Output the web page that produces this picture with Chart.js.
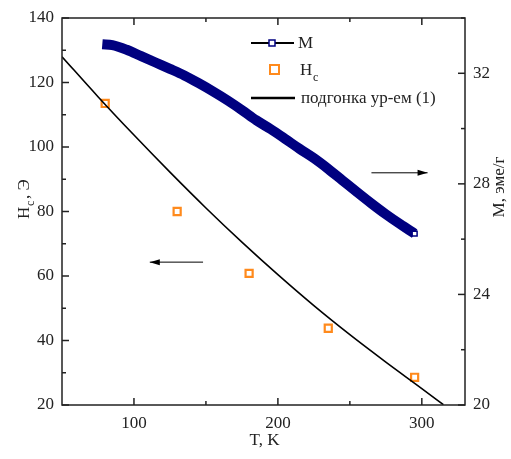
<!DOCTYPE html>
<html>
<head>
<meta charset="utf-8">
<script src="https://cdn.jsdelivr.net/npm/chart.js@4.4.1/dist/chart.umd.min.js"></script>
<style>
  body { margin: 0; background: #fff; }
  canvas { display: block; }
</style>
</head>
<body>
<canvas id="chart" width="511" height="459"></canvas>
<script>
// M(T), right axis
const tM = [78, 85, 95, 105, 115, 125, 135, 145, 155, 165, 175, 185, 195, 205, 215, 225, 235, 245, 255, 265, 275, 285, 295];
const mValues = [33.05, 33.02, 32.85, 32.62, 32.39, 32.16, 31.92, 31.64, 31.34, 31.02, 30.67, 30.3, 29.98, 29.63, 29.27, 28.93, 28.54, 28.12, 27.7, 27.29, 26.9, 26.54, 26.2];

// Hc(T), left axis
const tHc = [80, 130, 180, 235, 295];
const hcValues = [113.5, 80, 60.8, 43.8, 28.6];

// fit curve
const tFit = [50, 75, 100, 125, 150, 175, 200, 225, 250, 275, 300, 315];
const hFit = [128, 115.6, 103.7, 92.2, 81.1, 70.5, 60.4, 50.8, 41.8, 33.3, 25.1, 20.1];

const xTicks = [100, 150, 200, 250, 300];
const yTicks = [20, 30, 40, 50, 60, 70, 80, 90, 100, 110, 120, 130, 140];
const y1Ticks = [20, 22, 24, 26, 28, 30, 32, 34];

const SERIF = '"Liberation Serif", "DejaVu Serif", serif';
const INK = '#222';
const NAVY = '#000080';
const ORANGE = '#ff8a1c';

function pairs(xs, ys) { return xs.map((x, i) => ({ x: x, y: ys[i] })); }

const decor = {
  id: 'decor',
  afterDraw(chart) {
    const ctx = chart.ctx;
    const a = chart.chartArea;
    const sx = chart.scales.x, sy = chart.scales.y, sy1 = chart.scales.y1;
    ctx.save();
    ctx.strokeStyle = INK;
    ctx.lineWidth = 1.5;
    ctx.strokeRect(a.left, a.top, a.right - a.left, a.bottom - a.top);

    // inward ticks
    xTicks.forEach(v => {
      const px = sx.getPixelForValue(v);
      const len = v % 100 === 0 ? 7 : 4;
      ctx.beginPath();
      ctx.moveTo(px, a.bottom); ctx.lineTo(px, a.bottom - len);
      ctx.moveTo(px, a.top); ctx.lineTo(px, a.top + len);
      ctx.stroke();
    });
    yTicks.forEach(v => {
      const py = sy.getPixelForValue(v);
      const len = v % 20 === 0 ? 7 : 4;
      ctx.beginPath();
      ctx.moveTo(a.left, py); ctx.lineTo(a.left + len, py);
      ctx.stroke();
    });
    y1Ticks.forEach(v => {
      const py = sy1.getPixelForValue(v);
      const len = v % 4 === 0 ? 7 : 4;
      ctx.beginPath();
      ctx.moveTo(a.right, py); ctx.lineTo(a.right - len, py);
      ctx.stroke();
    });

    // arrows
    function arrow(x1, y1, x2, y2) {
      ctx.strokeStyle = '#000';
      ctx.fillStyle = '#000';
      ctx.lineWidth = 1;
      ctx.beginPath(); ctx.moveTo(x1, y1); ctx.lineTo(x2, y2); ctx.stroke();
      const dir = Math.sign(x2 - x1);
      ctx.beginPath();
      ctx.moveTo(x2, y2);
      ctx.lineTo(x2 - dir * 10, y2 - 3);
      ctx.lineTo(x2 - dir * 10, y2 + 3);
      ctx.closePath(); ctx.fill();
    }
    const ly = sy.getPixelForValue(64.3);
    arrow(sx.getPixelForValue(148), ly, sx.getPixelForValue(111), ly);
    const ry = sy1.getPixelForValue(28.4);
    arrow(sx.getPixelForValue(265), ry, sx.getPixelForValue(304), ry);

    // legend
    ctx.font = '17px ' + SERIF;
    ctx.fillStyle = INK;
    ctx.textBaseline = 'middle';
    ctx.strokeStyle = '#000';
    ctx.lineWidth = 2;
    ctx.beginPath(); ctx.moveTo(251, 43); ctx.lineTo(294, 43); ctx.stroke();
    ctx.fillStyle = '#fff';
    ctx.strokeStyle = NAVY;
    ctx.lineWidth = 1.5;
    ctx.fillRect(269, 40, 6, 6);
    ctx.strokeRect(269, 40, 6, 6);
    ctx.fillStyle = INK;
    ctx.fillText('M', 298, 44);

    ctx.strokeStyle = ORANGE;
    ctx.lineWidth = 2;
    ctx.strokeRect(270, 65, 9, 9);
    ctx.fillStyle = INK;
    ctx.fillText('H', 300, 71);
    ctx.font = '12px ' + SERIF;
    ctx.fillText('c', 313, 78);

    ctx.strokeStyle = '#000';
    ctx.lineWidth = 2.5;
    ctx.beginPath(); ctx.moveTo(251, 98); ctx.lineTo(295, 98); ctx.stroke();
    ctx.font = '17px ' + SERIF;
    ctx.fillText('подгонка ур-ем (1)', 301, 99);

    // axis titles
    ctx.textAlign = 'center';
    ctx.fillText('T, K', (a.left + a.right) / 2 + 1, 441);

    ctx.save();
    ctx.translate(25, 194);
    ctx.rotate(-Math.PI / 2);
    ctx.textAlign = 'left';
    ctx.font = '17px ' + SERIF;
    ctx.fillText('H', -25, 0);
    ctx.font = '12px ' + SERIF;
    ctx.fillText('c', -12, 6);
    ctx.font = '17px ' + SERIF;
    ctx.fillText(', Э', -5, 0);
    ctx.restore();

    ctx.save();
    ctx.translate(500, 187);
    ctx.rotate(-Math.PI / 2);
    ctx.textAlign = 'center';
    ctx.fillText('M, эме/г', 0, 0);
    ctx.restore();

    ctx.restore();
  }
};

new Chart(document.getElementById('chart'), {
  type: 'scatter',
  data: {
    datasets: [
      {
        label: 'M',
        data: pairs(tM, mValues),
        yAxisID: 'y1',
        showLine: true,
        borderColor: NAVY,
        borderWidth: 10,
        cubicInterpolationMode: 'monotone',
        pointStyle: 'rect',
        pointRadius: ctx => ctx.dataIndex === tM.length - 1 ? 3.5 : 0,
        pointBackgroundColor: '#fff',
        pointBorderColor: NAVY,
        pointBorderWidth: 1.5
      },
      {
        label: 'подгонка ур-ем (1)',
        data: pairs(tFit, hFit),
        yAxisID: 'y',
        showLine: true,
        borderColor: '#000',
        borderWidth: 1.6,
        cubicInterpolationMode: 'monotone',
        pointRadius: 0
      },
      {
        label: 'Hc',
        data: pairs(tHc, hcValues),
        yAxisID: 'y',
        pointStyle: 'rect',
        pointRadius: 5,
        pointBackgroundColor: '#fff',
        pointBorderColor: ORANGE,
        pointBorderWidth: 2.2
      }
    ]
  },
  options: {
    responsive: false,
    animation: false,
    devicePixelRatio: 1,
    layout: { padding: { top: 18 } },
    plugins: { legend: { display: false }, tooltip: { enabled: false } },
    scales: {
      x: {
        type: 'linear',
        min: 50, max: 330,
        afterFit: s => { s.height = 54; },
        afterBuildTicks: s => { s.ticks = xTicks.map(v => ({ value: v })); },
        grid: { display: false },
        border: { display: false },
        ticks: {
          padding: 0,
          color: INK,
          font: { family: SERIF, size: 17 },
          callback: v => v % 100 === 0 ? v : ''
        }
      },
      y: {
        position: 'left',
        min: 20, max: 140,
        afterFit: s => { s.width = 62; },
        afterBuildTicks: s => { s.ticks = yTicks.map(v => ({ value: v })); },
        grid: { display: false },
        border: { display: false },
        ticks: {
          padding: 0,
          color: INK,
          font: { family: SERIF, size: 17 },
          callback: v => v % 20 === 0 ? v : ''
        }
      },
      y1: {
        position: 'right',
        min: 20, max: 34,
        afterFit: s => { s.width = 46; },
        afterBuildTicks: s => { s.ticks = y1Ticks.map(v => ({ value: v })); },
        grid: { display: false },
        border: { display: false },
        ticks: {
          padding: 0,
          color: INK,
          font: { family: SERIF, size: 17 },
          callback: v => v % 4 === 0 ? v : ''
        }
      }
    }
  },
  plugins: [decor]
});
</script>
</body>
</html>
